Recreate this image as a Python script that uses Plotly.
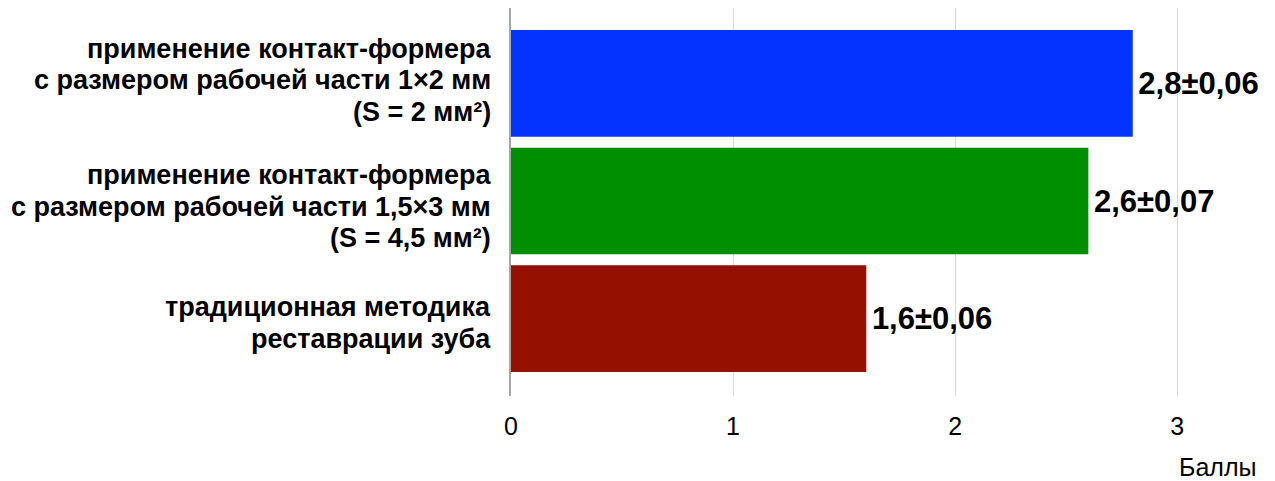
import plotly.graph_objects as go

categories = [
    "традиционная методика<br>реставрации зуба",
    "применение контакт-формера<br>с размером рабочей части 1,5×3 мм<br>(S = 4,5 мм²)",
    "применение контакт-формера<br>с размером рабочей части 1×2 мм<br>(S = 2 мм²)",
]
values = [1.6, 2.6, 2.8]
value_labels = ["1,6±0,06", "2,6±0,07", "2,8±0,06"]
colors = ["#941100", "#008F00", "#0433FF"]
x_ticks = [0, 1, 2, 3]
positions = [0, 1, 2]

FONT = "Liberation Sans, Arial, Helvetica, sans-serif"

# label layout (pixels): vertical offset of each label block and line spacing
block_offsets = [-4.5, -5.5, 3]
line_gap = 31.5

fig = go.Figure(
    go.Bar(
        x=values,
        y=positions,
        orientation="h",
        width=0.907,
        marker=dict(color=colors, line=dict(width=0)),
        text=value_labels,
        texttemplate="\u200a%{text}",
        textposition="outside",
        textfont=dict(family=FONT, size=31, color="black", weight="bold"),
        cliponaxis=False,
        hoverinfo="skip",
    )
)

annotations = []
for cat, pos, off in zip(categories, positions, block_offsets):
    lines = cat.split("<br>")
    n = len(lines)
    for i, line in enumerate(lines):
        annotations.append(
            dict(
                text=line,
                x=0,
                xref="x",
                y=pos,
                yref="y",
                xanchor="right",
                yanchor="middle",
                align="right",
                xshift=-18,
                yshift=off + ((n - 1) / 2 - i) * line_gap,
                showarrow=False,
                font=dict(family=FONT, size=27, color="black", weight="bold"),
            )
        )
annotations.append(
    dict(
        text="Баллы",
        x=1.0,
        xref="paper",
        y=0.0,
        yref="paper",
        yshift=-71,
        xanchor="right",
        yanchor="middle",
        xshift=-8,
        showarrow=False,
        font=dict(family=FONT, size=25, color="black"),
    )
)

fig.update_layout(
    width=1267,
    height=473,
    margin=dict(l=503, r=9, t=0, b=85, autoexpand=False),
    paper_bgcolor="white",
    plot_bgcolor="white",
    showlegend=False,
    font=dict(family=FONT, color="black"),
    xaxis=dict(
        range=[0, 3.4],
        tickvals=x_ticks,
        ticktext=[str(v) for v in x_ticks],
        tickfont=dict(family=FONT, size=25, color="black"),
        showgrid=True,
        gridcolor="#D9D9D9",
        gridwidth=1,
        zeroline=False,
        showline=False,
        ticks="",
        ticklabelstandoff=13,
        automargin=False,
    ),
    yaxis=dict(
        range=[-0.657, 2.640],
        tickvals=positions,
        showticklabels=False,
        showgrid=False,
        zeroline=False,
        showline=True,
        linecolor="#A6A6A6",
        linewidth=2,
        ticks="",
        automargin=False,
    ),
    annotations=annotations,
)

fig.write_html("out.html")
